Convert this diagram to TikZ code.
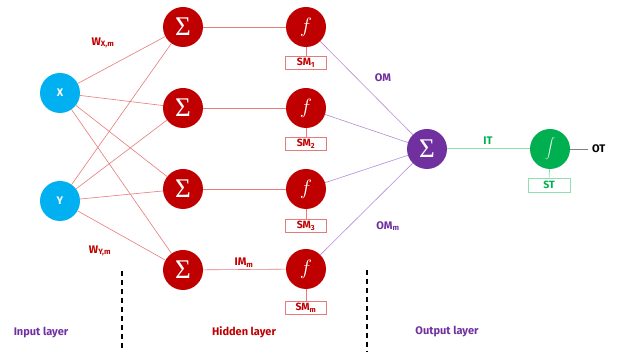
\documentclass[tikz,border=0pt]{standalone}
\usepackage{fontspec}
\setsansfont{Fira Sans}
\newfontfamily\sigmafont{Liberation Serif}
\definecolor{cblue}{HTML}{00B0F0}
\definecolor{cred}{HTML}{C00000}
\definecolor{lred}{HTML}{E57B7B}
\definecolor{cpurple}{HTML}{7030A0}
\definecolor{lpurple}{HTML}{B48AD6}
\definecolor{cgreen}{HTML}{00B050}
\definecolor{lgreen}{HTML}{8FE0B0}
\begin{document}
\begin{tikzpicture}[x=1pt,y=-1pt,
  lab/.style={font=\sffamily\bfseries\fontsize{11}{12}\selectfont, inner sep=0},
  inp/.style={circle, fill=cblue, minimum size=40pt, inner sep=0, text=white, font=\sffamily\bfseries\fontsize{11}{11}\selectfont},
  sumnode/.style={circle, fill=cred, minimum size=40pt, inner sep=0, text=white, font=\sigmafont\fontsize{27}{27}\selectfont},
  fnode/.style={circle, fill=cred, minimum size=40pt, inner sep=0, text=white, font=\fontsize{22}{22}\selectfont},
  smbox/.style={draw=lred, line width=0.9pt, minimum width=41pt, minimum height=13pt, inner sep=0, text=cred, font=\sffamily\bfseries\fontsize{10.5}{11}\selectfont},
  redln/.style={draw=lred, line width=0.6pt},
  purln/.style={draw=lpurple, line width=0.6pt},
  layerdash/.style={draw=black, line width=1.4pt, dash pattern=on 5pt off 4pt}
]
\useasboundingbox (0,0) rectangle (625,352);
% input nodes
\node[inp] (X) at (60,93) {X};
\node[inp] (Y) at (60,201) {Y};
% sum nodes
\node[sumnode] (s1) at (183,27) {Σ};
\node[sumnode] (s2) at (183,108) {Σ};
\node[sumnode] (s3) at (183,189) {Σ};
\node[sumnode] (s4) at (183,270) {Σ};
% f nodes
\node[fnode] (f1) at (306,27) {$f$};
\node[fnode] (f2) at (306,108) {$f$};
\node[fnode] (f3) at (306,189) {$f$};
\node[fnode] (f4) at (306,269) {$f$};
% SM boxes
\node[smbox] (sm1) at (306,63) {SM\textsubscript{1}};
\node[smbox] (sm2) at (306,144) {SM\textsubscript{2}};
\node[smbox] (sm3) at (306,226) {SM\textsubscript{3}};
\node[smbox] (sm4) at (306,308) {SM\textsubscript{m}};
% output nodes
\node[sumnode, fill=cpurple] (so) at (427,149) {Σ};
\node[fnode, fill=cgreen, font=\fontsize{16}{16}\selectfont] (fo) at (550,149) {$\displaystyle\int$};
\node[smbox, draw=lgreen, text=cgreen, minimum width=42pt, minimum height=14pt] (st) at (549,185) {ST};
\coordinate (otend) at (588,149);
\node[lab, anchor=west] (ot) at (592,149) {OT};
% edges
\foreach \i in {X,Y}{
  \foreach \j in {s1,s2,s3,s4}{
    \draw[redln] (\i) -- (\j);
  }
}
\foreach \j in {1,2,3,4}{
  \draw[redln] (s\j) -- (f\j);
  \draw[redln] (f\j) -- (sm\j);
  \draw[purln] (f\j) -- (so);
}
\draw[draw=lgreen, line width=1pt] (so) -- (fo);
\draw[draw=lgreen, line width=0.8pt] (fo) -- (st);
\draw[draw=gray, line width=0.8pt] (fo) -- (otend);
% labels
\node[lab, text=cred] (wx) at (103,43) {W\textsubscript{X,m}};
\node[lab, text=cred] (wy) at (100,251) {W\textsubscript{Y,m}};
\node[lab, text=cred] (im) at (244,263) {IM\textsubscript{m}};
\node[lab, text=cpurple] (om) at (383,78) {OM};
\node[lab, text=cpurple] (omm) at (388,226) {OM\textsubscript{m}};
\node[lab, text=cgreen] (it) at (488,141) {IT};
\node[lab, text=cpurple] (inl) at (41,333) {Input layer};
\node[lab, text=cred] (hl) at (244,332) {Hidden layer};
\node[lab, text=cpurple] (ol) at (447,332) {Output layer};
% dashed separators
\coordinate (d1a) at (122,271);
\coordinate (d1b) at (122,352);
\coordinate (d2a) at (367,270);
\coordinate (d2b) at (367,352);
\draw[layerdash] (d1a) -- (d1b);
\draw[layerdash] (d2a) -- (d2b);
\end{tikzpicture}
\end{document}
